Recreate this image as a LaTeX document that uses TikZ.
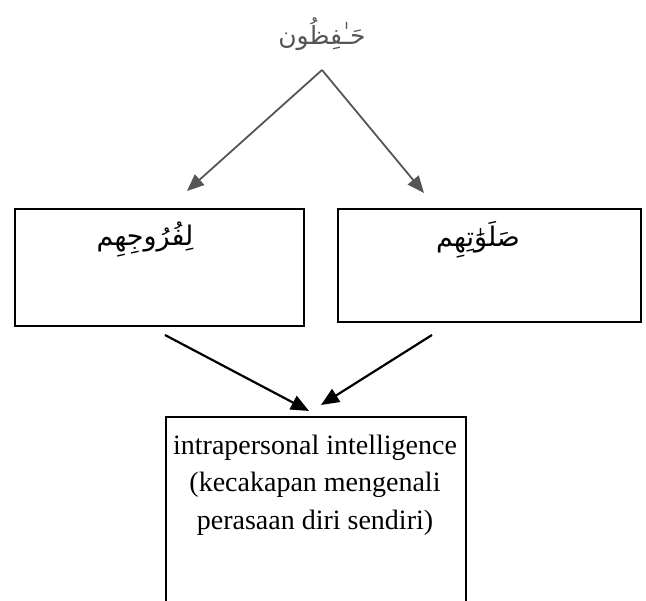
\documentclass[tikz,border=0pt]{standalone}
\usepackage{fontspec}
\setmainfont{Liberation Serif}
\newfontfamily\arabicfont[Script=Arabic]{DejaVu Sans}
\usetikzlibrary{arrows.meta}
\definecolor{arrowgray}{HTML}{555555}
\begin{document}
\begin{tikzpicture}[x=1pt,y=-1pt,
  boxframe/.style={draw=black, line width=1.6pt, rectangle, inner sep=0pt, anchor=north west},
  artext/.style={font=\arabicfont\fontsize{27}{32}\selectfont, inner sep=0pt},
  grayarrow/.style={draw=arrowgray, line width=1.8pt, -{Triangle[length=17pt,width=14pt]}},
  blackarrow/.style={draw=black, line width=2.2pt, -{Triangle[length=18pt,width=15pt]}}]
\useasboundingbox (0,0) rectangle (646,601);
% top word
\node[artext, text=arrowgray, font=\arabicfont\fontsize{25}{30}\selectfont] (top) at (322,34) {حَـٰفِظُون};
\coordinate (apex) at (322,70);
\coordinate (ltip) at (187,191);
\coordinate (rtip) at (424,193);
\draw[grayarrow] (apex) -- (ltip);
\draw[grayarrow] (apex) -- (rtip);
% two boxes
\node[boxframe, minimum width=289pt, minimum height=117pt] (lbox) at (14,208) {};
\node[boxframe, minimum width=303pt, minimum height=113pt] (rbox) at (337,208) {};
\node[artext] (ltext) at (145,240) {لِفُرُوجِهِم};
\node[artext] (rtext) at (478,240) {صَلَوَٰتِهِم};
% black arrows
\coordinate (lstart) at (165,335);
\coordinate (lend) at (309,411);
\coordinate (rstart) at (432,335);
\coordinate (rend) at (321,405);
\draw[blackarrow] (lstart) -- (lend);
\draw[blackarrow] (rstart) -- (rend);
% bottom box
\node[boxframe, minimum width=300pt, minimum height=200pt] (bbox) at (165,416) {};
\node[align=center, font=\fontsize{28}{37.5}\selectfont, inner sep=0pt] (btext) at (315,485)
  {intrapersonal intelligence\\(kecakapan mengenali\\perasaan diri sendiri)};
\end{tikzpicture}
\end{document}
